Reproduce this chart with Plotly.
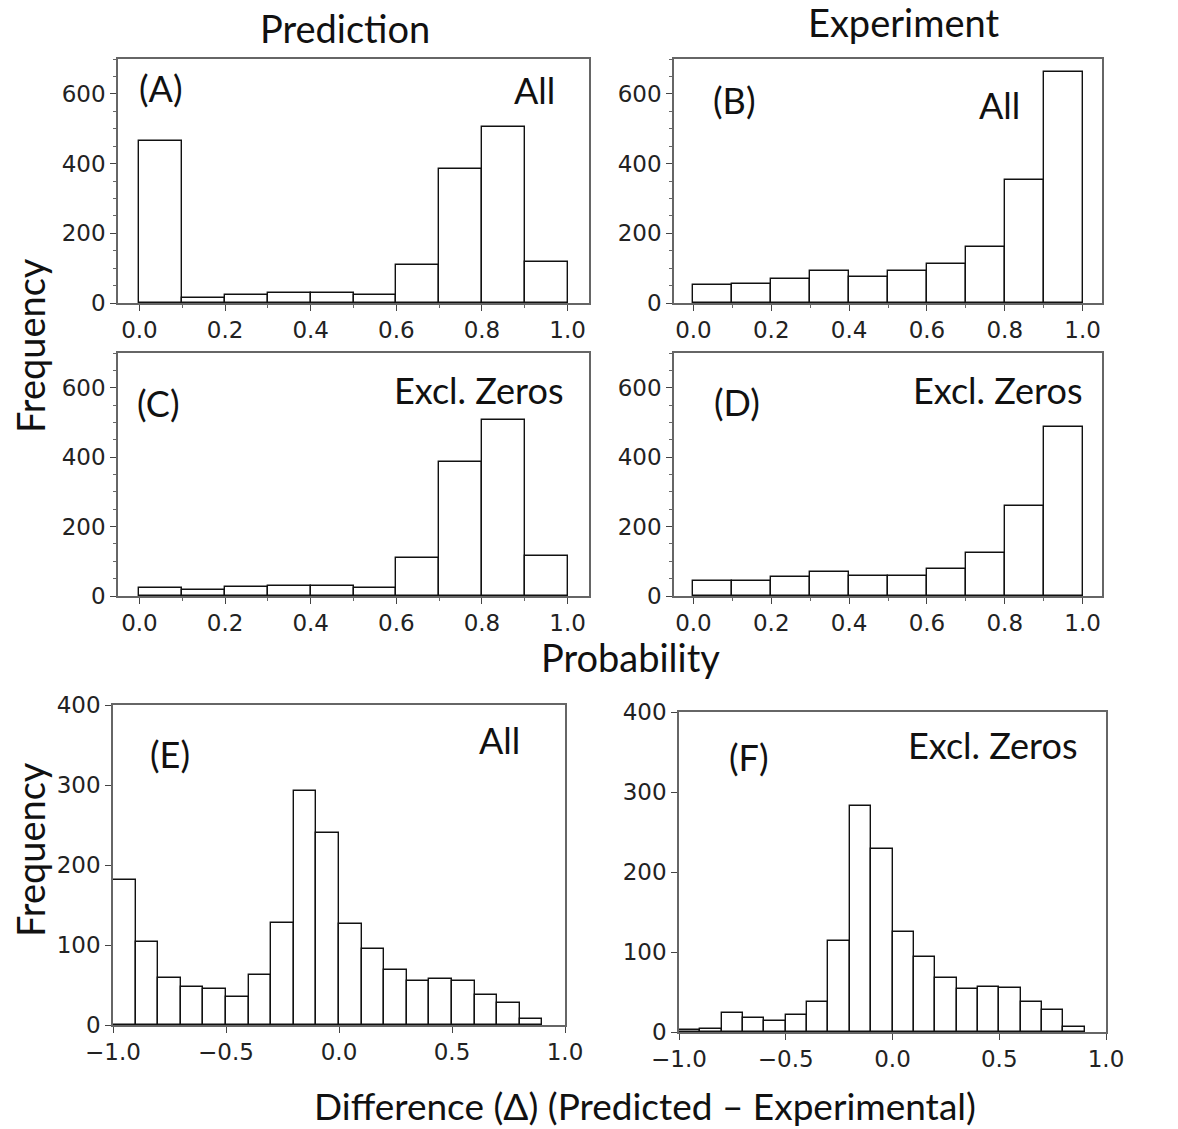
import plotly.graph_objects as go

W, H = 1178, 1129

# ---- data ----
prob_bins = [0.0, 0.1, 0.2, 0.3, 0.4, 0.5, 0.6, 0.7, 0.8, 0.9]
pred_all = [466, 15, 24, 28, 29, 22, 108, 385, 504, 117]
exp_all = [51, 54, 69, 92, 74, 92, 113, 160, 354, 664]
pred_excl = [24, 16, 26, 30, 30, 24, 110, 387, 506, 116]
exp_excl = [42, 42, 54, 69, 59, 59, 79, 125, 258, 486]

diff_bins = [-1.0, -0.9, -0.8, -0.7, -0.6, -0.5, -0.4, -0.3, -0.2, -0.1,
             0.0, 0.1, 0.2, 0.3, 0.4, 0.5, 0.6, 0.7, 0.8]
diff_all = [181, 104, 59, 48, 45, 35, 62, 128, 293, 240,
            126, 95, 69, 55, 57, 55, 38, 27, 7]
diff_excl = [3, 4, 24, 17, 14, 21, 38, 114, 282, 229,
             125, 94, 68, 54, 56, 55, 38, 27, 6]

prob_ticks = [0.0, 0.2, 0.4, 0.6, 0.8, 1.0]
prob_ticklabels = ["0.0", "0.2", "0.4", "0.6", "0.8", "1.0"]
diff_ticks = [-1.0, -0.5, 0.0, 0.5, 1.0]
diff_ticklabels = ["\u22121.0", "\u22120.5", "0.0", "0.5", "1.0"]

# panel boxes in pixels: (x0, x1, y0_top, y1_bottom)
boxes = {
    "A": (118, 589, 59, 303),
    "B": (674, 1102, 59, 303),
    "C": (118, 589, 353, 596),
    "D": (674, 1102, 353, 596),
    "E": (113, 565, 705, 1025),
    "F": (679, 1106, 712, 1032),
}

def px(x):
    return x / W

def py(y):
    return 1 - y / H

fig = go.Figure()

panels = [
    ("A", prob_bins, pred_all, 0.1),
    ("B", prob_bins, exp_all, 0.1),
    ("C", prob_bins, pred_excl, 0.1),
    ("D", prob_bins, exp_excl, 0.1),
    ("E", diff_bins, diff_all, 0.1),
    ("F", diff_bins, diff_excl, 0.1),
]

TICKFONT = dict(family="DejaVu Sans", size=23, color="#222")
LBLFONT = "Lato"

layout = {}
for i, (name, bins, vals, w) in enumerate(panels):
    idx = "" if i == 0 else str(i + 1)
    fig.add_trace(go.Bar(
        x=bins, y=vals, width=w, offset=0,
        marker=dict(color="white", line=dict(color="#111", width=1.4)),
        xaxis="x" + idx, yaxis="y" + idx, showlegend=False,
    ))
    x0, x1, yt, yb = boxes[name]
    prob = name in "ABCD"
    xa = dict(
        domain=[px(x0), px(x1)], anchor="y" + idx, automargin=False,
        range=[-0.05, 1.05] if prob else [-1.0, 1.0],
        tickvals=prob_ticks if prob else diff_ticks,
        ticktext=prob_ticklabels if prob else diff_ticklabels,
        ticks="outside", ticklen=6, tickwidth=1.2, tickcolor="#444",
        showline=True, mirror=True, linecolor="#666", linewidth=1.5,
        showgrid=False, zeroline=False, tickfont=TICKFONT,
    )
    if prob:
        xa["minor"] = dict(dtick=0.1, tick0=0, ticks="outside", ticklen=3,
                           tickcolor="#666", showgrid=False)
    ya = dict(
        domain=[py(yb), py(yt)], anchor="x" + idx, automargin=False,
        range=[0, 700] if prob else [0, 400],
        tickvals=[0, 200, 400, 600] if prob else [0, 100, 200, 300, 400],
        ticks="outside", ticklen=6, tickwidth=1.2, tickcolor="#444",
        showline=True, mirror=True, linecolor="#666", linewidth=1.5,
        showgrid=False, zeroline=False, tickfont=TICKFONT,
    )
    if prob:
        ya["minor"] = dict(dtick=50, tick0=0, ticks="outside", ticklen=3,
                           tickcolor="#666", showgrid=False)
    layout["xaxis" + idx] = xa
    layout["yaxis" + idx] = ya

annotations = []

def txt(s, x, y, size, xanchor="center", angle=0):
    annotations.append(dict(
        text=s, x=px(x), y=py(y), xref="paper", yref="paper",
        xanchor=xanchor, yanchor="middle", showarrow=False, textangle=angle,
        font=dict(family=LBLFONT, size=size, color="#111"),
    ))

txt("Prediction", 345, 28, 38)
txt("Experiment", 903, 22, 38)
txt("Frequency", 30, 346, 38, angle=-90)
txt("Frequency", 30, 850, 38, angle=-90)
txt("Probability", 630, 657, 38)
txt("Difference (\u0394) (Predicted \u2013 Experimental)", 645, 1105, 37)

txt("(A)", 137, 88, 36, "left")
txt("All", 557, 90, 36, "right")
txt("(B)", 711, 100, 36, "left")
txt("All", 1022, 105, 36, "right")
txt("(C)", 135, 403, 36, "left")
txt("Excl. Zeros", 566, 390, 36, "right")
txt("(D)", 712, 402, 36, "left")
txt("Excl. Zeros", 1085, 390, 36, "right")
txt("(E)", 148, 754, 36, "left")
txt("All", 522, 740, 36, "right")
txt("(F)", 727, 757, 36, "left")
txt("Excl. Zeros", 1080, 745, 36, "right")

fig.update_layout(
    width=W, height=H,
    margin=dict(l=0, r=0, t=0, b=0),
    paper_bgcolor="white", plot_bgcolor="white",
    bargap=0, annotations=annotations,
    **layout,
)

fig.write_html("out.html")
